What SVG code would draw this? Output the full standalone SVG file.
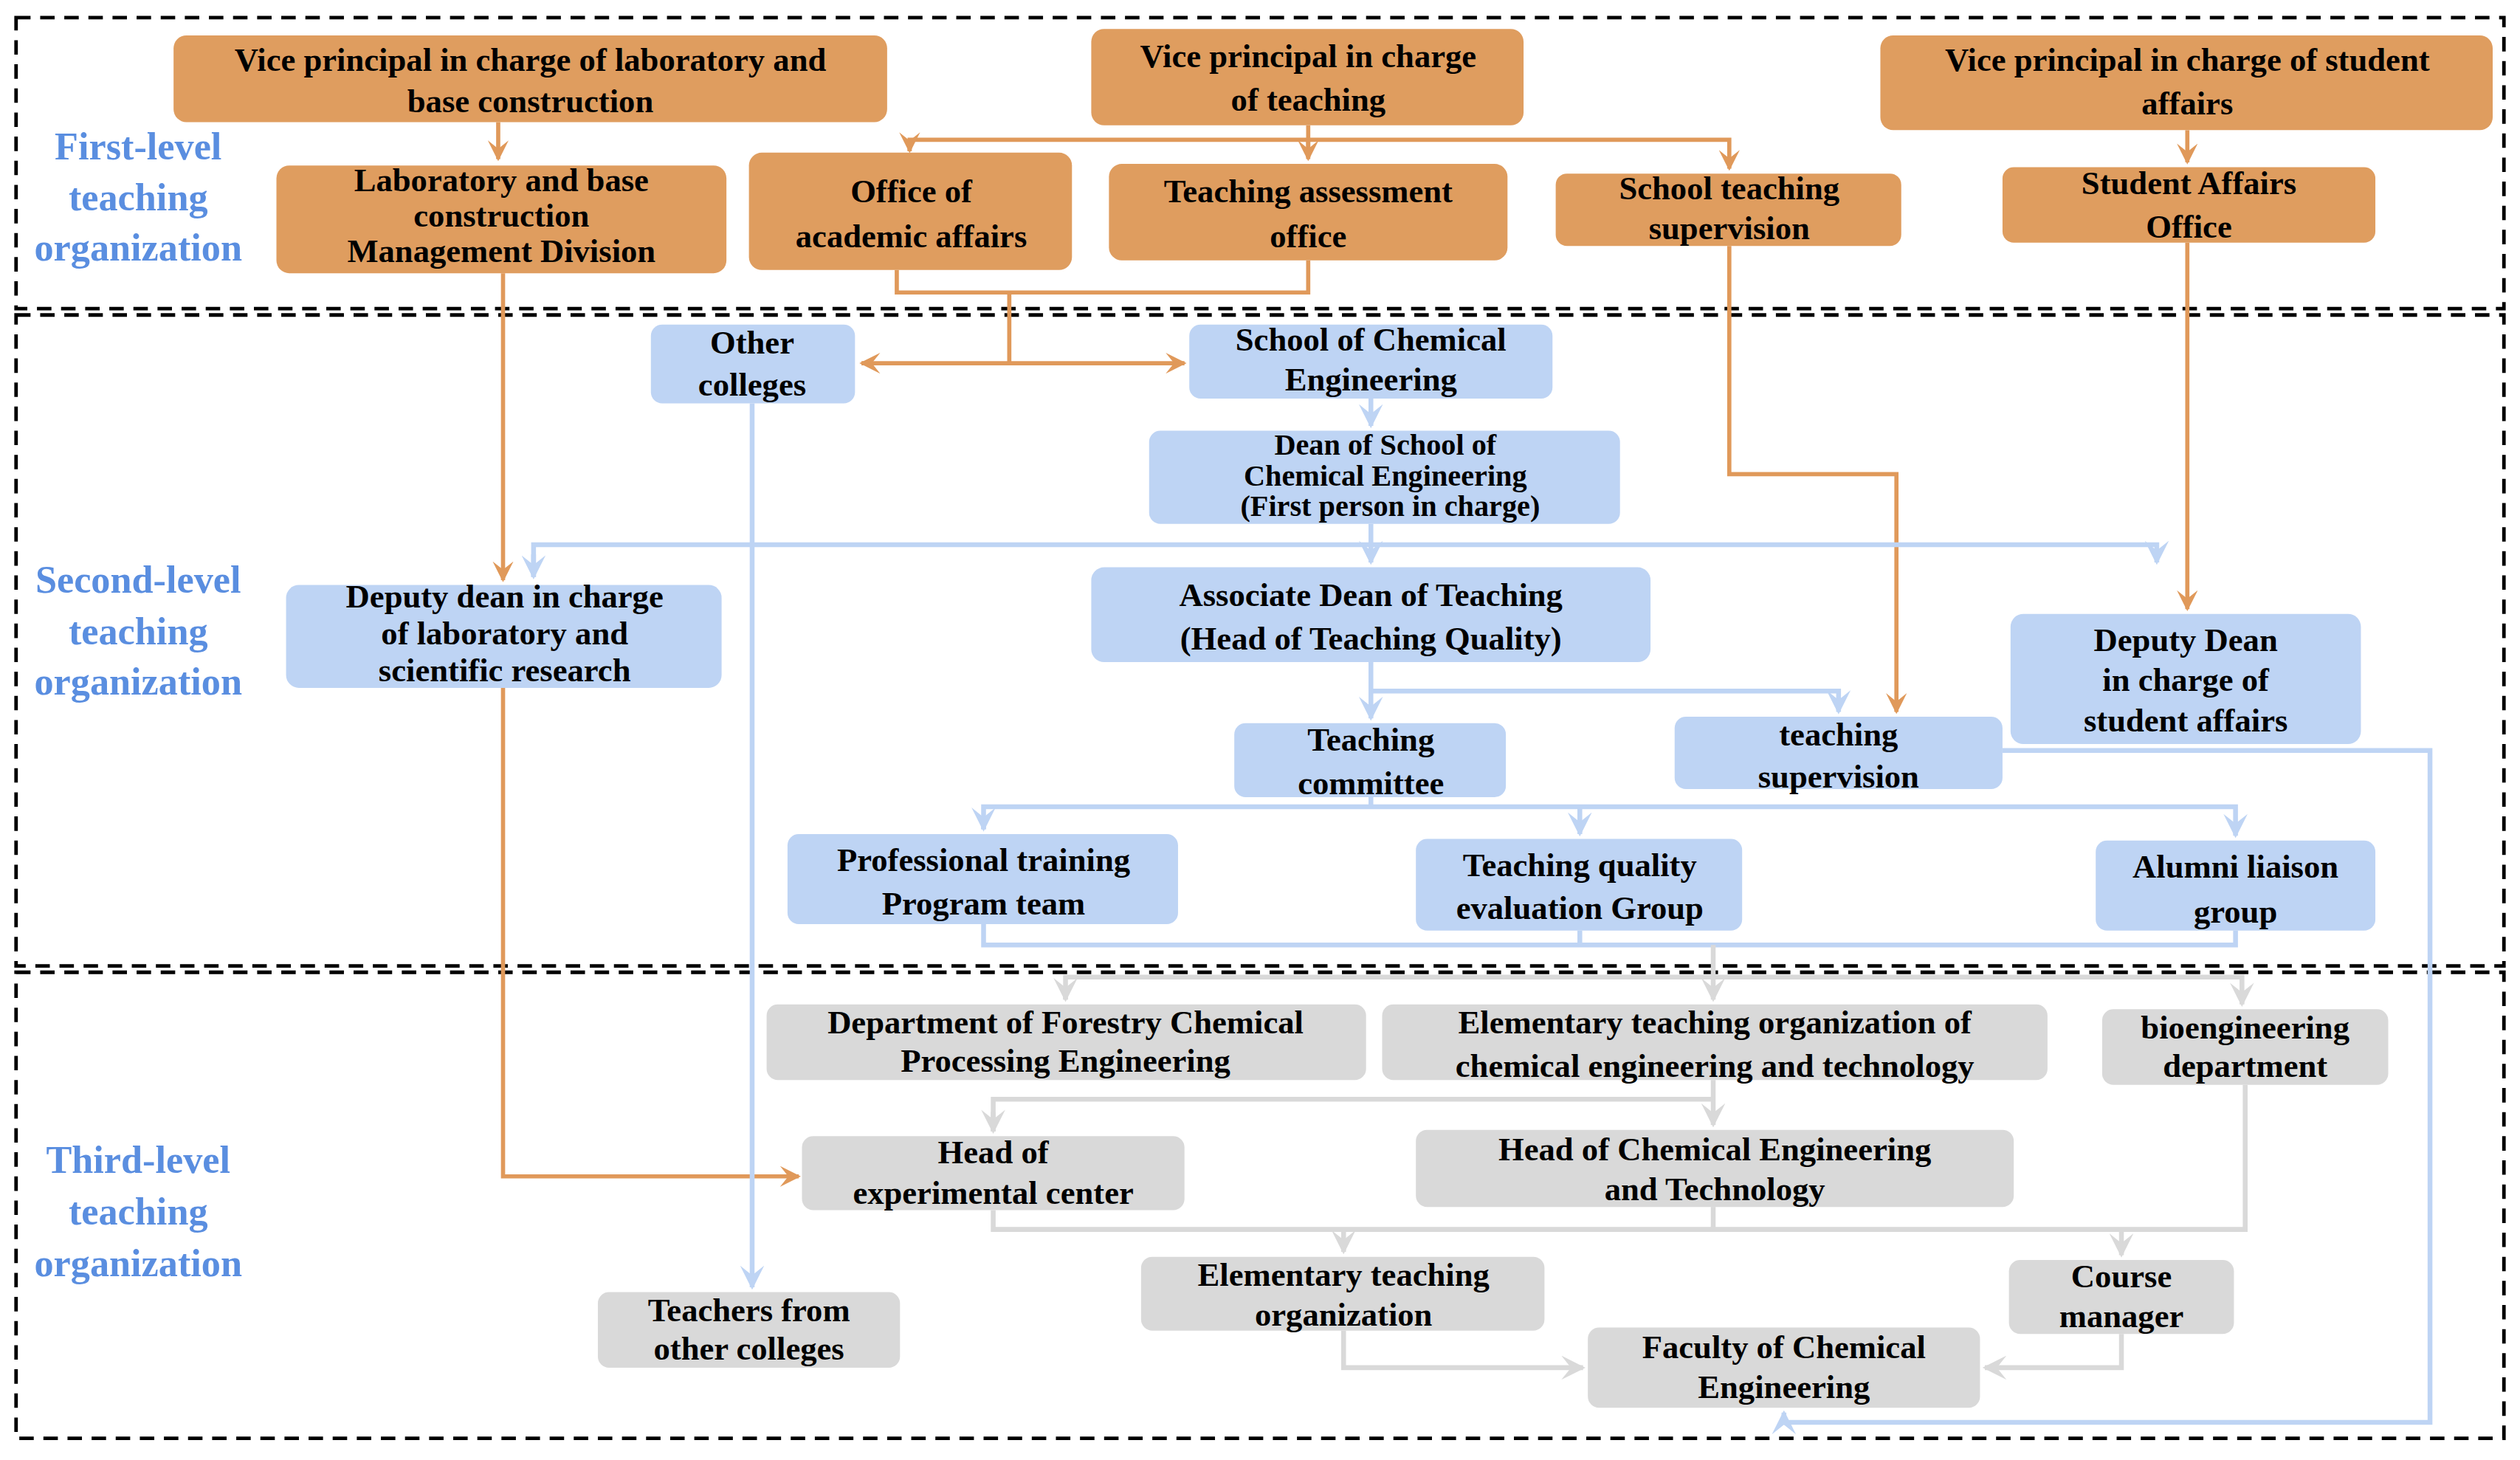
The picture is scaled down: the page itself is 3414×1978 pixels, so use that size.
<svg xmlns="http://www.w3.org/2000/svg" width="3414" height="1978" viewBox="0 0 3414 1978">
<defs>
<style>
.o{fill:#DF9D5F}.b{fill:#BED4F4}.g{fill:#D9D9D9}
text{font-family:"Liberation Serif","Times New Roman",serif;font-weight:bold;font-size:20.5px;fill:#000;text-anchor:middle}
.lv{fill:#5A8EE0;font-size:24px}
.sm{font-size:18.5px}
.fr{fill:none;stroke:#000;stroke-width:2.2;stroke-dasharray:9,6}
.co{fill:none;stroke:#E0995A;stroke-width:2.6}
.cb{fill:none;stroke:#BED4F4;stroke-width:3}
.cg{fill:none;stroke:#D9D9D9;stroke-width:3}
</style>
<marker id="ao" viewBox="0 0 10 10" refX="9" refY="5" markerWidth="5" markerHeight="5" orient="auto-start-reverse"><path d="M0,0 L10,5 L0,10 L4,5 z" fill="#E0995A"/></marker>
<marker id="ab" viewBox="0 0 10 10" refX="9" refY="5" markerWidth="5" markerHeight="5" orient="auto"><path d="M0,0 L10,5 L0,10 L4,5 z" fill="#BED4F4"/></marker>
<marker id="ag" viewBox="0 0 10 10" refX="9" refY="5" markerWidth="5" markerHeight="5" orient="auto"><path d="M0,0 L10,5 L0,10 L4,5 z" fill="#D9D9D9"/></marker>
</defs>
<rect width="3414" height="1978" fill="#fff"/>
<g transform="scale(2.1773)">
<g id="frames">
<rect class="fr" x="10" y="11" width="1548" height="181"/>
<rect class="fr" x="10" y="196" width="1548" height="405"/>
<rect class="fr" x="10" y="605" width="1548" height="290"/>
</g>
<g id="levels">
<text class="lv" x="86" y="99">First-level</text><text class="lv" x="86" y="131">teaching</text><text class="lv" x="86" y="162">organization</text>
<text class="lv" x="86" y="369">Second-level</text><text class="lv" x="86" y="401">teaching</text><text class="lv" x="86" y="432">organization</text>
<text class="lv" x="86" y="730">Third-level</text><text class="lv" x="86" y="762">teaching</text><text class="lv" x="86" y="794">organization</text>
</g>
<g id="connectors">
<path class="co" d="M310,76V99" marker-end="url(#ao)"/>
<path class="co" d="M814,78V98"/>
<path class="co" d="M566,94V87H1076V105" marker-end="url(#ao)"/>
<path class="co" d="M566,87V94" marker-end="url(#ao)"/>
<path class="co" d="M814,87V99" marker-end="url(#ao)"/>
<path class="co" d="M1361,81V101" marker-end="url(#ao)"/>
<path class="co" d="M558,168V182H814V162"/>
<path class="co" d="M628,182V226"/>
<path class="co" d="M536,226H737" marker-start="url(#ao)" marker-end="url(#ao)"/>
<path class="co" d="M313,170V361" marker-end="url(#ao)"/>
<path class="co" d="M313,428V732H497" marker-end="url(#ao)"/>
<path class="co" d="M1076,153V295H1180V443" marker-end="url(#ao)"/>
<path class="co" d="M1361,151V379" marker-end="url(#ao)"/>
<path class="cb" d="M468,251V801" marker-end="url(#ab)"/>
<path class="cb" d="M853,248V265" marker-end="url(#ab)"/>
<path class="cb" d="M853,326V350" marker-end="url(#ab)"/>
<path class="cb" d="M332,359V339H1342V350" marker-end="url(#ab)"/>
<path class="cb" d="M332,345V359" marker-end="url(#ab)"/>
<path class="cb" d="M853,412V447" marker-end="url(#ab)"/>
<path class="cb" d="M853,430H1144V443" marker-end="url(#ab)"/>
<path class="cb" d="M853,496V502"/>
<path class="cb" d="M612,516V502H1391V520" marker-end="url(#ab)"/>
<path class="cb" d="M612,508V516" marker-end="url(#ab)"/>
<path class="cb" d="M983,502V519" marker-end="url(#ab)"/>
<path class="cb" d="M612,575V588H1391V579M983,579V588"/>
<path class="cb" d="M1246,467H1512V885H1110V879" marker-end="url(#ab)"/>
<path class="cg" d="M1066,588V608"/>
<path class="cg" d="M663,622V608H1395V625" marker-end="url(#ag)"/>
<path class="cg" d="M663,614V622" marker-end="url(#ag)"/>
<path class="cg" d="M1066,608V622" marker-end="url(#ag)"/>
<path class="cg" d="M1066,672V700" marker-end="url(#ag)"/>
<path class="cg" d="M618,704V684H1066"/>
<path class="cg" d="M618,692V704" marker-end="url(#ag)"/>
<path class="cg" d="M618,753V765H1397V675"/>
<path class="cg" d="M1066,751V765"/>
<path class="cg" d="M836,765V779" marker-end="url(#ag)"/>
<path class="cg" d="M1320,765V781" marker-end="url(#ag)"/>
<path class="cg" d="M836,828V851H985" marker-end="url(#ag)"/>
<path class="cg" d="M1320,830V851H1235" marker-end="url(#ag)"/>
</g>
<g id="n1"><rect class="o" x="108" y="22" width="444" height="54" rx="8"/><text x="330" y="44">Vice principal in charge of laboratory and</text><text x="330" y="70">base construction</text></g>
<g id="n2"><rect class="o" x="679" y="18" width="269" height="60" rx="8"/><text x="814" y="42">Vice principal in charge</text><text x="814" y="69">of teaching</text></g>
<g id="n3"><rect class="o" x="1170" y="22" width="381" height="59" rx="8"/><text x="1361" y="44">Vice principal in charge of student</text><text x="1361" y="71">affairs</text></g>
<g id="n4"><rect class="o" x="172" y="103" width="280" height="67" rx="8"/><text x="312" y="119">Laboratory and base</text><text x="312" y="141">construction</text><text x="312" y="163">Management Division</text></g>
<g id="n5"><rect class="o" x="466" y="95" width="201" height="73" rx="8"/><text x="567" y="126">Office of</text><text x="567" y="154">academic affairs</text></g>
<g id="n6"><rect class="o" x="690" y="102" width="248" height="60" rx="8"/><text x="814" y="126">Teaching assessment</text><text x="814" y="154">office</text></g>
<g id="n7"><rect class="o" x="968" y="108" width="215" height="45" rx="7"/><text x="1076" y="124">School teaching</text><text x="1076" y="149">supervision</text></g>
<g id="n8"><rect class="o" x="1246" y="104" width="232" height="47" rx="7"/><text x="1362" y="121">Student Affairs</text><text x="1362" y="148">Office</text></g>
<g id="n9"><rect class="b" x="405" y="202" width="127" height="49" rx="7"/><text x="468" y="220">Other</text><text x="468" y="246">colleges</text></g>
<g id="n10"><rect class="b" x="740" y="202" width="226" height="46" rx="7"/><text x="853" y="218">School of Chemical</text><text x="853" y="243">Engineering</text></g>
<g id="n11"><rect class="b" x="715" y="268" width="293" height="58" rx="7"/><text class="sm" x="862" y="283">Dean of School of</text><text class="sm" x="862" y="302">Chemical Engineering</text><text class="sm" x="865" y="321">(First person in charge)</text></g>
<g id="n12"><rect class="b" x="178" y="364" width="271" height="64" rx="8"/><text x="314" y="378">Deputy dean in charge</text><text x="314" y="401">of laboratory and</text><text x="314" y="424">scientific research</text></g>
<g id="n13"><rect class="b" x="679" y="353" width="348" height="59" rx="8"/><text x="853" y="377">Associate Dean of Teaching</text><text x="853" y="404">(Head of Teaching Quality)</text></g>
<g id="n14"><rect class="b" x="1251" y="382" width="218" height="81" rx="8"/><text x="1360" y="405">Deputy Dean</text><text x="1360" y="430">in charge of</text><text x="1360" y="455">student affairs</text></g>
<g id="n15"><rect class="b" x="768" y="450" width="169" height="46" rx="7"/><text x="853" y="467">Teaching</text><text x="853" y="494">committee</text></g>
<g id="n16"><rect class="b" x="1042" y="446" width="204" height="45" rx="7"/><text x="1144" y="464">teaching</text><text x="1144" y="490">supervision</text></g>
<g id="n17"><rect class="b" x="490" y="519" width="243" height="56" rx="7"/><text x="612" y="542">Professional training</text><text x="612" y="569">Program team</text></g>
<g id="n18"><rect class="b" x="881" y="522" width="203" height="57" rx="7"/><text x="983" y="545">Teaching quality</text><text x="983" y="572">evaluation Group</text></g>
<g id="n19"><rect class="b" x="1304" y="523" width="174" height="56" rx="7"/><text x="1391" y="546">Alumni liaison</text><text x="1391" y="574">group</text></g>
<g id="n20"><rect class="g" x="477" y="625" width="373" height="47" rx="7"/><text x="663" y="643">Department of Forestry Chemical</text><text x="663" y="667">Processing Engineering</text></g>
<g id="n21"><rect class="g" x="860" y="625" width="414" height="47" rx="7"/><text x="1067" y="643">Elementary teaching organization of</text><text x="1067" y="670">chemical engineering and technology</text></g>
<g id="n22"><rect class="g" x="1308" y="628" width="178" height="47" rx="7"/><text x="1397" y="646">bioengineering</text><text x="1397" y="670">department</text></g>
<g id="n23"><rect class="g" x="499" y="707" width="238" height="46" rx="7"/><text x="618" y="724">Head of</text><text x="618" y="749">experimental center</text></g>
<g id="n24"><rect class="g" x="881" y="703" width="372" height="48" rx="7"/><text x="1067" y="722">Head of Chemical Engineering</text><text x="1067" y="747">and Technology</text></g>
<g id="n25"><rect class="g" x="710" y="782" width="251" height="46" rx="7"/><text x="836" y="800">Elementary teaching</text><text x="836" y="825">organization</text></g>
<g id="n26"><rect class="g" x="1250" y="784" width="140" height="46" rx="7"/><text x="1320" y="801">Course</text><text x="1320" y="826">manager</text></g>
<g id="n27"><rect class="g" x="372" y="804" width="188" height="47" rx="7"/><text x="466" y="822">Teachers from</text><text x="466" y="846">other colleges</text></g>
<g id="n28"><rect class="g" x="988" y="826" width="244" height="50" rx="7"/><text x="1110" y="845">Faculty of Chemical</text><text x="1110" y="870">Engineering</text></g>
</g>
</svg>
